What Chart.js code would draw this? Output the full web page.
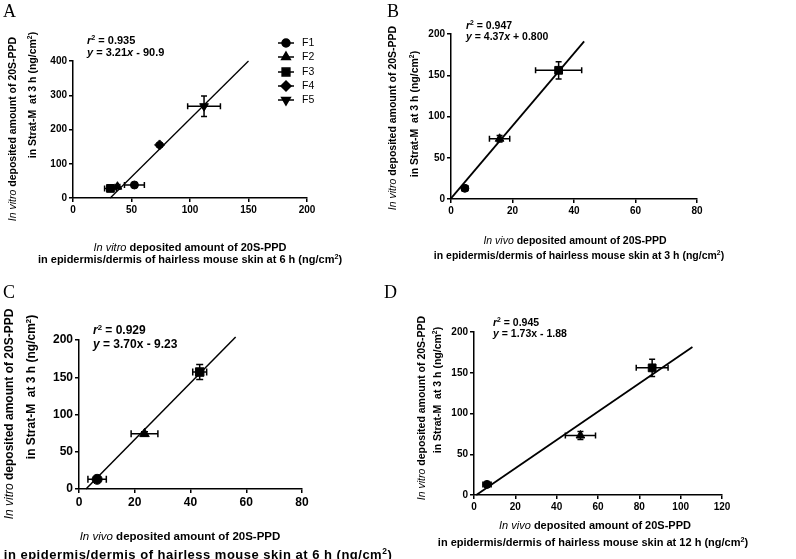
<!DOCTYPE html>
<html>
<head>
<meta charset="utf-8">
<script src="https://cdn.jsdelivr.net/npm/chart.js@4.4.1/dist/chart.umd.min.js"></script>
<style>
  html, body { margin: 0; padding: 0; background: #fff; }
  body { width: 796px; height: 559px; position: relative; overflow: hidden; font-family: "Liberation Sans", Arial, sans-serif; color: #000; }
  canvas { position: absolute; }
  .t { position: absolute; white-space: nowrap; font-weight: bold; line-height: 1; }
  .t i { font-weight: normal; }
  .yt { transform: translate(-50%, -50%) rotate(-90deg); }
  .xt { transform: translate(-50%, -50%); }
  .ann { transform: translateY(-50%); }
  .ann i { font-weight: bold; }
  .letter { position: absolute; font-family: "Liberation Serif", "DejaVu Serif", serif; font-size: 18px; line-height: 1; }
  sup { font-size: 0.65em; line-height: 0; vertical-align: 0.5em; }
</style>
</head>
<body>
<canvas id="cA" width="390" height="280" style="left:0;top:0"></canvas>
<canvas id="cB" width="406" height="280" style="left:390px;top:0"></canvas>
<canvas id="cC" width="400" height="279" style="left:0;top:280px"></canvas>
<canvas id="cD" width="396" height="279" style="left:400px;top:280px"></canvas>

<!-- panel A text -->
<div class="letter" style="left:3px;top:2px">A</div>
<div class="t ann" style="left:87px;top:40px;font-size:11px"><i>r</i><sup>2</sup> = 0.935</div>
<div class="t ann" style="left:87px;top:52px;font-size:11px"><i>y</i> = 3.21<i>x</i> - 90.9</div>
<div class="t yt" style="left:12px;top:129px;font-size:10.5px"><i>In vitro</i> deposited amount of 20S-PPD</div>
<div class="t yt" style="left:32px;top:95px;font-size:10.5px">in Strat-M&nbsp; at 3 h (ng/cm<sup>2</sup>)</div>
<div class="t xt" style="left:190px;top:247px;font-size:11px"><i>In vitro</i> deposited amount of 20S-PPD</div>
<div class="t xt" style="left:190px;top:259px;font-size:11px">in epidermis/dermis of hairless mouse skin at 6 h (ng/cm<sup>2</sup>)</div>

<!-- panel B text -->
<div class="letter" style="left:387px;top:2px">B</div>
<div class="t ann" style="left:466px;top:25px;font-size:10.5px"><i>r</i><sup>2</sup> = 0.947</div>
<div class="t ann" style="left:466px;top:36px;font-size:10.5px"><i>y</i> = 4.37<i>x</i> + 0.800</div>
<div class="t yt" style="left:392px;top:118px;font-size:10.5px"><i>In vitro</i> deposited amount of 20S-PPD</div>
<div class="t yt" style="left:414px;top:114px;font-size:10.5px">in Strat-M&nbsp; at 3 h (ng/cm<sup>2</sup>)</div>
<div class="t xt" style="left:575px;top:240px;font-size:10.5px"><i>In vivo</i> deposited amount of 20S-PPD</div>
<div class="t xt" style="left:579px;top:255px;font-size:10.5px">in epidermis/dermis of hairless mouse skin at 3 h (ng/cm<sup>2</sup>)</div>

<!-- panel C text -->
<div class="letter" style="left:3px;top:283px">C</div>
<div class="t ann" style="left:93px;top:330px;font-size:12px"><i>r</i><sup>2</sup> = 0.929</div>
<div class="t ann" style="left:93px;top:344px;font-size:12px"><i>y</i> = 3.70x - 9.23</div>
<div class="t yt" style="left:9px;top:414px;font-size:12px"><i>In vitro</i> deposited amount of 20S-PPD</div>
<div class="t yt" style="left:31px;top:387px;font-size:12px">in Strat-M&nbsp; at 3 h (ng/cm<sup>2</sup>)</div>
<div class="t xt" style="left:180px;top:537px;font-size:11.5px"><i>In vivo</i> deposited amount of 20S-PPD</div>
<div class="t xt" style="left:198px;top:554px;font-size:13px;letter-spacing:0.5px">in epidermis/dermis of hairless mouse skin at 6 h (ng/cm<sup>2</sup>)</div>

<!-- panel D text -->
<div class="letter" style="left:384px;top:283px">D</div>
<div class="t ann" style="left:493px;top:322px;font-size:10.5px"><i>r</i><sup>2</sup> = 0.945</div>
<div class="t ann" style="left:493px;top:333px;font-size:10.5px"><i>y</i> = 1.73x - 1.88</div>
<div class="t yt" style="left:421px;top:408px;font-size:10.5px"><i>In vitro</i> deposited amount of 20S-PPD</div>
<div class="t yt" style="left:437px;top:390px;font-size:10.5px">in Strat-M&nbsp; at 3 h (ng/cm<sup>2</sup>)</div>
<div class="t xt" style="left:595px;top:525px;font-size:11px"><i>In vivo</i> deposited amount of 20S-PPD</div>
<div class="t xt" style="left:593px;top:542px;font-size:11px">in epidermis/dermis of hairless mouse skin at 12 h (ng/cm<sup>2</sup>)</div>

<script>
// panel A: in vitro (Strat-M 3 h) vs in vitro skin 6 h
const groupsA = ["F1", "F2", "F3", "F4", "F5"];
const xA = [52.5, 38, 32, 74, 112];
const yA = [38, 33, 28, 155, 268];
const xErrA = [8.5, 2, 5, 2, 14];
const yErrA = [4, 3, 3, 6, 30];
const fitXA = [31.8, 150];
const fitYA = [0, 400];
const xTicksA = [0, 50, 100, 150, 200];
const yTicksA = [0, 100, 200, 300, 400];

// panels B-D share the same three formulations
const groupsBCD = ["Suspension", "Oil solution", "F5-H"];
const yTicksBCD = [0, 50, 100, 150, 200];

// panel B: in vivo 3 h
const xB = [4.5, 15.8, 35];
const yB = [13, 73, 156];
const xErrB = [1, 3.3, 7.5];
const yErrB = [3, 4, 10.5];
const fitXB = [0, 43.3];
const fitYB = [0.8, 191];
const xTicksB = [0, 20, 40, 60, 80];

// panel C: in vivo 6 h
const xC = [6.5, 23.5, 43.3];
const yC = [13, 74, 157];
const xErrC = [3.3, 4.8, 2.5];
const yErrC = [2, 3, 10];
const fitXC = [2.5, 56.2];
const fitYC = [0, 204];
const xTicksC = [0, 20, 40, 60, 80];

// panel D: in vivo 12 h
const xD = [6.3, 51.5, 86.2];
const yD = [13, 73, 156];
const xErrD = [2, 7.3, 7.7];
const yErrD = [2, 5, 10.5];
const fitXD = [1.1, 105.7];
const fitYD = [0, 181.6];
const xTicksD = [0, 20, 40, 60, 80, 100, 120];

const FONT = "'Liberation Sans', Arial, sans-serif";

// error bars with caps, drawn from the chart's own scales
const errorBars = {
  id: "errorBars",
  afterDatasetsDraw(chart, args, opts) {
    const ctx = chart.ctx;
    const xs = chart.scales.x;
    const ys = chart.scales.y;
    ctx.save();
    ctx.strokeStyle = "#000";
    ctx.lineWidth = opts.width;
    chart.data.datasets.forEach((ds) => {
      if (!ds.xErr) return;
      ds.data.forEach((pt, i) => {
        const px = xs.getPixelForValue(pt.x);
        const py = ys.getPixelForValue(pt.y);
        const cap = opts.cap;
        const x1 = xs.getPixelForValue(pt.x - ds.xErr[i]);
        const x2 = xs.getPixelForValue(pt.x + ds.xErr[i]);
        const y1 = ys.getPixelForValue(pt.y - ds.yErr[i]);
        const y2 = ys.getPixelForValue(pt.y + ds.yErr[i]);
        ctx.beginPath();
        ctx.moveTo(x1, py); ctx.lineTo(x2, py);
        ctx.moveTo(x1, py - cap); ctx.lineTo(x1, py + cap);
        ctx.moveTo(x2, py - cap); ctx.lineTo(x2, py + cap);
        ctx.moveTo(px, y1); ctx.lineTo(px, y2);
        ctx.moveTo(px - cap, y1); ctx.lineTo(px + cap, y1);
        ctx.moveTo(px - cap, y2); ctx.lineTo(px + cap, y2);
        ctx.stroke();
      });
    });
    ctx.restore();
  }
};

// GraphPad style legend: short line through the marker, then the label
const lineLegend = {
  id: "lineLegend",
  afterDraw(chart, args, opts) {
    const ctx = chart.ctx;
    ctx.save();
    ctx.fillStyle = "#000";
    ctx.strokeStyle = "#000";
    ctx.font = opts.fontSize + "px " + FONT;
    ctx.textBaseline = "middle";
    let row = 0;
    chart.data.datasets.forEach((ds) => {
      if (ds.isFit) return;
      const y = opts.rows[row++];
      ctx.lineWidth = 1.5;
      ctx.beginPath();
      ctx.moveTo(opts.x - 8, y);
      ctx.lineTo(opts.x + 8, y);
      ctx.stroke();
      const style = { pointStyle: ds.pointStyle, rotation: ds.pointRotation || 0, radius: ds.pointRadius, borderWidth: 1 };
      if (Chart.helpers && Chart.helpers.drawPoint) {
        Chart.helpers.drawPoint(ctx, style, opts.x, y);
      }
      ctx.fillText(ds.label, opts.labelX, y);
    });
    ctx.restore();
  }
};

function axis(ticksList, tickFont, size, isX) {
  return {
    type: "linear",
    min: ticksList[0],
    max: ticksList[ticksList.length - 1],
    afterBuildTicks: (s) => { s.ticks = ticksList.map((v) => ({ value: v })); },
    ticks: { color: "#000", font: { family: FONT, size: tickFont, weight: "bold" }, padding: 2, maxRotation: 0, autoSkip: false },
    grid: { drawOnChartArea: false, drawTicks: true, tickLength: 4, color: "#000", lineWidth: 1.5 },
    border: { color: "#000", width: 1.5 },
    afterFit: (s) => { if (isX) { s.height = size; } else { s.width = size; } }
  };
}

function makeChart(p) {
  const yW = 40;
  const xH = 30;
  const datasets = p.groups.map((g, i) => ({
    label: g,
    data: [{ x: p.xs[i], y: p.ys[i] }],
    xErr: [p.xErr[i]],
    yErr: [p.yErr[i]],
    pointStyle: p.marker.styles[i],
    pointRotation: p.marker.rot[i],
    pointRadius: p.marker.radius[i],
    pointBackgroundColor: "#000",
    pointBorderColor: "#000",
    pointBorderWidth: 1,
    showLine: false,
    clip: false
  }));
  datasets.push({
    label: "fit",
    isFit: true,
    data: p.fitX.map((x, i) => ({ x, y: p.fitY[i] })),
    showLine: true,
    borderColor: "#000",
    borderWidth: p.lineWidth,
    pointRadius: 0,
    clip: false
  });

  new Chart(document.getElementById(p.id), {
    type: "scatter",
    data: { datasets },
    options: {
      responsive: false,
      animation: false,
      layout: {
        padding: {
          left: p.area.l - p.box.l - yW,
          top: p.area.t - p.box.t,
          right: p.box.l + p.box.w - p.area.r,
          bottom: p.box.t + p.box.h - p.area.b - xH
        }
      },
      scales: {
        x: axis(p.xTicks, p.tickFont, xH, true),
        y: axis(p.yTicks, p.tickFont, yW, false)
      },
      plugins: {
        legend: { display: false },
        tooltip: { enabled: false },
        errorBars: { width: 1.5, cap: p.cap },
        lineLegend: p.legend
      }
    },
    plugins: [errorBars, lineLegend]
  });
}

const markBCD = { styles: ["circle", "triangle", "rect"], rot: [0, 0, 0], radius: [4, 5, 5.5] };

makeChart({
  id: "cA", groups: groupsA, xs: xA, ys: yA, xErr: xErrA, yErr: yErrA, fitX: fitXA, fitY: fitYA,
  xTicks: xTicksA, yTicks: yTicksA, tickFont: 10, lineWidth: 1.3, cap: 3,
  marker: { styles: ["circle", "triangle", "rect", "rectRot", "triangle"], rot: [0, 0, 0, 0, 180], radius: [4, 5, 5.5, 5, 5] },
  box: { l: 0, t: 0, w: 390, h: 280 }, area: { l: 73, r: 307, t: 61, b: 198 },
  legend: { x: 286, labelX: 302, rows: [43, 57, 72, 86, 100], fontSize: 10.5 }
});

makeChart({
  id: "cB", groups: groupsBCD, xs: xB, ys: yB, xErr: xErrB, yErr: yErrB, fitX: fitXB, fitY: fitYB,
  xTicks: xTicksB, yTicks: yTicksBCD, tickFont: 10, lineWidth: 1.8, cap: 3,
  marker: markBCD,
  box: { l: 390, t: 0, w: 406, h: 280 }, area: { l: 451, r: 697, t: 34, b: 199 },
  legend: { x: 690, labelX: 706, rows: [31, 45, 60], fontSize: 10.5 }
});

makeChart({
  id: "cC", groups: groupsBCD, xs: xC, ys: yC, xErr: xErrC, yErr: yErrC, fitX: fitXC, fitY: fitYC,
  xTicks: xTicksC, yTicks: yTicksBCD, tickFont: 12, lineWidth: 1.5, cap: 3.5,
  marker: { styles: ["circle", "triangle", "rect"], rot: [0, 0, 0], radius: [5, 5.5, 6] },
  box: { l: 0, t: 280, w: 400, h: 279 }, area: { l: 79, r: 302, t: 340, b: 489 },
  legend: { x: 312, labelX: 332, rows: [333, 347, 361], fontSize: 12 }
});

makeChart({
  id: "cD", groups: groupsBCD, xs: xD, ys: yD, xErr: xErrD, yErr: yErrD, fitX: fitXD, fitY: fitYD,
  xTicks: xTicksD, yTicks: yTicksBCD, tickFont: 10, lineWidth: 1.8, cap: 3,
  marker: markBCD,
  box: { l: 400, t: 280, w: 396, h: 279 }, area: { l: 474, r: 722, t: 332, b: 495 },
  legend: { x: 726, labelX: 743, rows: [329, 343, 358], fontSize: 10.5 }
});
</script>
</body>
</html>
